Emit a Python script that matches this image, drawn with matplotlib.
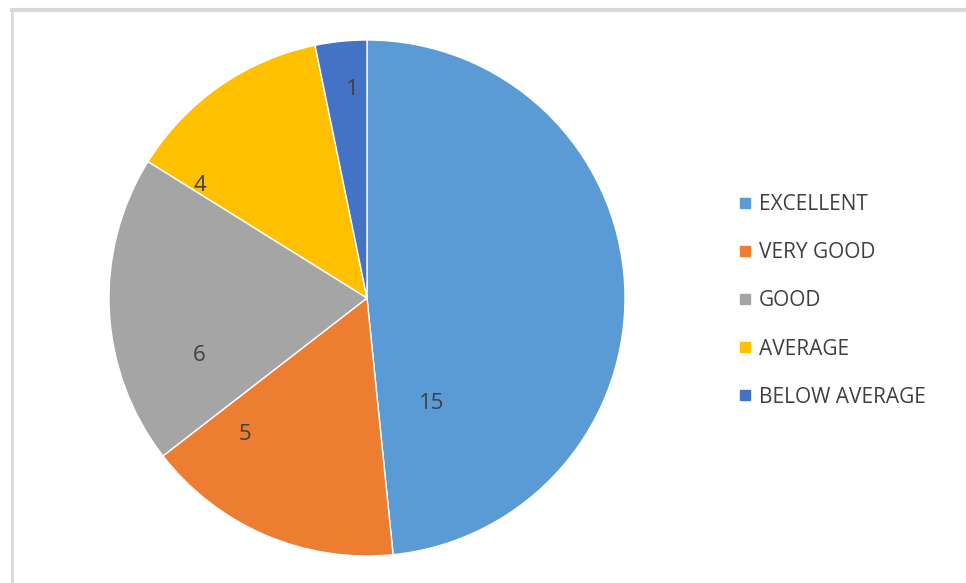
import numpy as np
import matplotlib
matplotlib.use('Agg')
import matplotlib.pyplot as plt
from matplotlib.lines import Line2D

# Ratings and counts
categories = ['EXCELLENT', 'VERY GOOD', 'GOOD', 'AVERAGE', 'BELOW AVERAGE']
counts = [15, 5, 6, 4, 1]
colors = ['#5B9BD5', '#ED7D31', '#A5A5A5', '#FFC000', '#4472C4']

# where Excel put each data label (fraction of radius, angle in degrees)
label_radius = [0.48, 0.71, 0.69, 0.78, 0.81]
label_angle = [-58.7, -131.7, -161.0, 146.0, 94.0]

plt.rcParams['font.family'] = ['Open Sans', 'DejaVu Sans']

W, H = 966, 583
fig = plt.figure(figsize=(W / 100, H / 100), dpi=100)

# pie area, centre about (367, 298) px, radius about 258 px
cx, cy, r = 367, 298, 258
ax = fig.add_axes([(cx - r) / W, (H - cy - r) / H, 2 * r / W, 2 * r / H])
wedges, _ = ax.pie(counts, colors=colors, startangle=90, counterclock=False,
                   wedgeprops=dict(edgecolor='white', linewidth=1.0))
ax.set_xlim(-1, 1)
ax.set_ylim(-1, 1)
ax.set_aspect('equal')

for val, rr, ang in zip(counts, label_radius, label_angle):
    a = np.deg2rad(ang)
    ax.text(rr * np.cos(a), rr * np.sin(a), str(val), ha='center', va='center',
            fontsize=16, color='#404040')

# legend on the right
handles = [Line2D([], [], marker='s', linestyle='none', markersize=7,
                  markerfacecolor=c, markeredgecolor=c) for c in colors]
fig.legend(handles, categories, loc='upper left', bbox_to_anchor=(729 / W, 1 - 186 / H),
           frameon=False, fontsize=15, labelspacing=1.3, handlelength=0.7,
           handletextpad=0.35, labelcolor='#404040', borderaxespad=0)

# light grey frame at top and left
fig.add_artist(Line2D([12 / W, 1], [1 - 10 / H, 1 - 10 / H], color='#D9D9D9', linewidth=3,
                      transform=fig.transFigure))
fig.add_artist(Line2D([12 / W, 12 / W], [0, 1 - 10 / H], color='#D9D9D9', linewidth=2,
                      transform=fig.transFigure))

fig.savefig('out.png', dpi=100, facecolor='white')
